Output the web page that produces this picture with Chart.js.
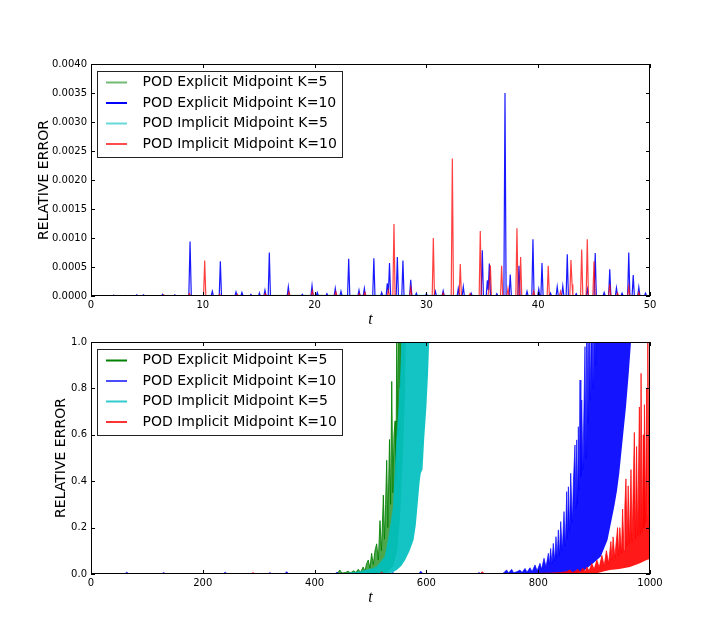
<!DOCTYPE html>
<html>
<head>
<meta charset="utf-8">
<title>Relative error</title>
<script src="https://cdn.jsdelivr.net/npm/chart.js@4.4.1/dist/chart.umd.min.js"></script>
<style>
  html, body { margin: 0; padding: 0; background: #fff; }
  #wrap { position: relative; width: 720px; height: 638px; overflow: hidden; background: #fff; }
  canvas { position: absolute; left: 0; }
  #topChart { top: 0; }
  #bottomChart { top: 330px; }
</style>
</head>
<body>
<div id="wrap">
  <canvas id="topChart" width="720" height="330"></canvas>
  <canvas id="bottomChart" width="720" height="308"></canvas>
</div>
<script>
// legend names (same for both panels)
const seriesLabels = [
  'POD Explicit Midpoint K=5',
  'POD Explicit Midpoint K=10',
  'POD Implicit Midpoint K=5',
  'POD Implicit Midpoint K=10'
];

// tick labels
const topXTicks = [0, 10, 20, 30, 40, 50];
const topYTicks = [0, 0.0005, 0.001, 0.0015, 0.002, 0.0025, 0.003, 0.0035, 0.004];
const bottomXTicks = [0, 200, 400, 600, 800, 1000];
const bottomYTicks = [0, 0.2, 0.4, 0.6, 0.8, 1.0];

// ---- top panel, t in [0, 50] : [t, relative error]
const topExplicitK5 = [[0, 0], [20, 0.00001], [50, 0]];
const topImplicitK5 = [[0, 0], [30, 0.00001], [50, 0]];

const topExplicitK10 = [
  [0, 0], [2.0, 0], [2.05, 0.00001], [2.1, 0], [4.0, 0], [4.1, 0.00002], [4.2, 0], [4.6, 0], [4.7, 0.00002], [4.8, 0],
  [6.3, 0], [6.4, 0.00003], [6.5, 0], [7.4, 0], [7.5, 0.00002], [7.6, 0], [8.75, 0], [8.86, 0.00094], [8.97, 0],
  [10.75, 0], [10.85, 0.00008], [10.95, 0], [11.47, 0], [11.57, 0.0006], [11.67, 0], [12.87, 0], [12.97, 0.00007], [13.07, 0],
  [13.4, 0], [13.5, 0.00006], [13.6, 0], [14.2, 0], [14.3, 0.00003], [14.4, 0], [15.0, 0], [15.06, 0.00005], [15.14, 0],
  [15.46, 0], [15.56, 0.0001], [15.66, 0], [15.85, 0], [15.95, 0.00075], [16.05, 0], [17.55, 0], [17.65, 0.00016], [17.75, 0],
  [18.8, 0], [18.9, 0.00003], [19.0, 0], [19.67, 0], [19.77, 0.00018], [19.87, 0], [20.14, 0], [20.24, 0.00006], [20.34, 0],
  [21.0, 0], [21.1, 0.00004], [21.2, 0], [21.75, 0], [21.85, 0.00013], [21.95, 0], [22.26, 0], [22.36, 0.00008], [22.46, 0],
  [22.95, 0], [23.05, 0.00064], [23.15, 0], [23.87, 0], [23.97, 0.0001], [24.07, 0], [24.35, 0], [24.45, 0.00013], [24.55, 0],
  [25.2, 0], [25.3, 0.00065], [25.4, 0], [25.9, 0], [26.0, 0.00006], [26.1, 0], [26.4, 0], [26.5, 0.00022], [26.6, 0.00005],
  [26.7, 0.00057], [26.8, 0], [27.3, 0], [27.4, 0.00067], [27.5, 0], [27.8, 0], [27.9, 0.00061], [28.0, 0],
  [28.5, 0], [28.6, 0.00028], [28.7, 0], [29.0, 0], [29.1, 0.00005], [29.2, 0], [29.9, 0], [30.0, 0.00004], [30.1, 0],
  [30.7, 0], [30.8, 0.00008], [30.9, 0], [31.4, 0], [31.5, 0.00009], [31.6, 0], [32.75, 0], [32.85, 0.00013], [32.95, 0],
  [33.2, 0], [33.3, 0.00016], [33.4, 0], [33.9, 0], [34.0, 0.00005], [34.1, 0], [34.9, 0], [35.0, 0.00079], [35.1, 0],
  [35.35, 0], [35.45, 0.00027], [35.53, 0.0001], [35.63, 0.00056], [35.73, 0], [36.2, 0], [36.3, 0.00004], [36.4, 0],
  [36.93, 0], [37.03, 0.0035], [37.13, 0], [37.4, 0], [37.5, 0.00037], [37.6, 0], [38.18, 0], [38.28, 0.00052], [38.38, 0],
  [38.9, 0], [39.0, 0.00008], [39.1, 0], [39.43, 0], [39.53, 0.00098], [39.63, 0], [39.95, 0], [40.05, 0.00012], [40.15, 0],
  [40.24, 0], [40.34, 0.00057], [40.44, 0], [41.0, 0], [41.1, 0.00005], [41.2, 0], [41.6, 0], [41.7, 0.00016], [41.8, 0],
  [42.1, 0], [42.2, 0.00017], [42.3, 0], [42.5, 0], [42.6, 0.00072], [42.7, 0], [43.3, 0], [43.4, 0.00004], [43.5, 0],
  [44.3, 0], [44.4, 0.00012], [44.5, 0], [45.0, 0], [45.1, 0.00074], [45.2, 0], [45.8, 0], [45.9, 0.00006], [46.0, 0],
  [46.3, 0], [46.4, 0.00046], [46.5, 0], [46.9, 0], [47.0, 0.00014], [47.1, 0], [47.4, 0], [47.5, 0.00005], [47.6, 0],
  [48.0, 0], [48.1, 0.00075], [48.2, 0], [48.4, 0], [48.5, 0.00036], [48.6, 0], [48.9, 0], [49.0, 0.00015], [49.1, 0],
  [49.5, 0], [49.6, 0.00005], [49.7, 0], [50, 0]
];

const topImplicitK10 = [
  [0, 0], [3.0, 0], [3.1, 0.00001], [3.2, 0], [6.4, 0], [6.5, 0.00002], [6.6, 0], [8.7, 0], [8.8, 0.00004], [8.9, 0],
  [10.07, 0], [10.17, 0.00061], [10.27, 0], [11.4, 0], [11.5, 0.00003], [11.6, 0], [13.0, 0], [13.1, 0.00003], [13.2, 0],
  [15.5, 0], [15.6, 0.00004], [15.7, 0], [17.6, 0], [17.7, 0.00007], [17.8, 0], [19.7, 0], [19.8, 0.00009], [19.9, 0],
  [21.8, 0], [21.9, 0.00007], [22.0, 0], [23.9, 0], [24.0, 0.00004], [24.1, 0], [24.4, 0], [24.5, 0.00006], [24.6, 0],
  [26.5, 0], [26.6, 0.0001], [26.7, 0], [27.0, 0], [27.1, 0.00124], [27.2, 0], [28.5, 0], [28.6, 0.00014], [28.7, 0],
  [30.52, 0], [30.62, 0.001], [30.72, 0], [31.4, 0], [31.5, 0.00005], [31.6, 0], [32.22, 0], [32.32, 0.00237], [32.42, 0],
  [32.93, 0], [33.03, 0.00055], [33.13, 0], [33.8, 0], [33.9, 0.00004], [34.0, 0], [34.72, 0], [34.82, 0.00112], [34.92, 0],
  [35.5, 0], [35.6, 0.00012], [35.72, 0.00053], [35.82, 0], [36.63, 0], [36.73, 0.00052], [36.83, 0],
  [37.2, 0], [37.3, 0.00013], [37.4, 0], [38.0, 0], [38.1, 0.00117], [38.2, 0], [38.33, 0], [38.43, 0.00067], [38.53, 0],
  [39.5, 0], [39.6, 0.00008], [39.7, 0], [40.8, 0], [40.9, 0.00052], [41.0, 0], [41.9, 0], [42.0, 0.00008], [42.1, 0],
  [42.83, 0], [42.93, 0.00062], [43.03, 0.0002], [43.1, 0], [43.79, 0], [43.89, 0.0008], [43.99, 0],
  [44.29, 0], [44.39, 0.00098], [44.49, 0], [44.89, 0], [44.99, 0.0006], [45.09, 0], [46.3, 0], [46.4, 0.0002], [46.5, 0],
  [47.0, 0], [47.1, 0.00005], [47.2, 0], [48.0, 0], [48.1, 0.00016], [48.2, 0], [48.9, 0], [49.0, 0.00006], [49.1, 0], [50, 0]
];

// ---- bottom panel, t in [0, 1000]: oscillating error, upper and lower envelopes
const bottomExplicitK5Upper = [
  [0, 0], [438, 0], [442, 0.006], [445, 0.017], [449, 0.004], [455, 0.006], [460, 0.012], [464, 0.004], [470, 0.014],
  [474, 0.006], [478, 0.02], [482, 0.008], [487, 0.03], [490, 0.012], [493, 0.045], [496, 0.06], [499, 0.025],
  [502, 0.089], [505, 0.04], [508, 0.1], [511, 0.13], [514, 0.06], [517, 0.23], [519.5, 0.1], [521, 0.19], [523, 0.34],
  [525, 0.15], [527, 0.3], [529, 0.49], [531, 0.2], [534, 0.58], [536, 0.3], [538, 0.83], [540, 0.35], [542, 0.6],
  [544, 0.66], [545.5, 0.4], [547, 1.05], [549, 0.6], [551, 1.3], [553, 0.8], [555, 1.4], [560, 1.5], [566, 1.5]
];
const bottomExplicitK5Lower = [
  [0, 0], [520, 0], [530, 0.01], [540, 0.03], [548, 0.1], [553, 0.25], [558, 0.5], [562, 0.8], [564, 1.2], [566, 1.5]
];

const bottomExplicitK10Upper = [
  [0, 0], [60, 0], [64, 0.008], [68, 0], [126, 0], [130, 0.006], [134, 0], [236, 0], [240, 0.008], [244, 0],
  [316, 0], [320, 0.006], [324, 0], [346, 0], [350, 0.01], [354, 0], [436, 0], [440, 0.008], [444, 0],
  [536, 0], [540, 0.006], [544, 0], [586, 0], [590, 0.012], [594, 0], [690, 0], [694, 0.006], [698, 0],
  [736, 0], [740, 0.01], [743.6, 0.017], [747, 0.004], [752.5, 0.02], [756, 0.005], [762, 0.01], [767.4, 0.017],
  [771, 0.006], [776.4, 0.024], [780, 0.008], [785.3, 0.027], [789, 0.01], [794.3, 0.039], [798, 0.014],
  [803.2, 0.046], [806, 0.02], [810.4, 0.068], [814, 0.03], [818.2, 0.089], [820, 0.04], [822.3, 0.11],
  [824.5, 0.045], [827, 0.132], [829.5, 0.055], [831.8, 0.161], [834, 0.07], [836, 0.19], [838, 0.08], [840.3, 0.226],
  [843, 0.1], [846.2, 0.269], [848.5, 0.12], [851, 0.355], [852.5, 0.15], [854, 0.376], [856, 0.18], [858.2, 0.434],
  [861, 0.22], [863, 0.4], [865.8, 0.556], [867.5, 0.28], [868.9, 0.578], [870.5, 0.3], [871.8, 0.635], [873.3, 0.36],
  [874.8, 0.836], [876.3, 0.42], [877.8, 0.75], [880, 0.45], [883.7, 0.98], [885.5, 0.5], [887, 1.2], [889, 0.65],
  [891, 1.2], [893, 0.75], [896, 1.3], [898, 0.8], [901, 1.3], [903, 0.9], [905, 1.4], [912, 1.5], [975, 1.5]
];
const bottomExplicitK10Lower = [
  [0, 0], [855, 0], [870, 0.005], [880, 0.012], [890, 0.03], [900, 0.05], [912, 0.075], [924, 0.147],
  [936, 0.29], [941, 0.36], [945, 0.434], [951, 0.578], [957, 0.72], [962, 0.865], [966, 1.0], [969, 1.3], [975, 1.5]
];

const bottomImplicitK5Upper = [
  [0, 0], [455, 0], [460, 0.004], [470, 0.006], [480, 0.009], [493, 0.017], [502, 0.022], [511, 0.03], [518, 0.05],
  [526, 0.075], [532, 0.147], [537, 0.22], [541, 0.29], [544, 0.43], [547, 0.58], [551, 0.72], [554, 0.86],
  [556, 1.0], [558, 1.5], [620, 1.5]
];
const bottomImplicitK5Lower = [
  [0, 0], [530, 0], [540, 0.008], [547, 0.017], [555, 0.035], [562, 0.06], [570, 0.1], [577, 0.147], [581, 0.21],
  [584, 0.29], [588, 0.4], [590, 0.434], [593, 0.45], [594, 0.49], [596, 0.58], [600, 0.72], [603, 0.865],
  [605, 1.0], [607, 1.3], [620, 1.5]
];

const bottomImplicitK10Upper = [
  [0, 0], [286, 0], [290, 0.006], [294, 0], [516, 0], [520, 0.008], [524, 0], [696, 0], [700, 0.01], [704, 0],
  [780, 0], [800, 0.003], [820, 0.004], [840, 0.006], [850, 0.01], [857, 0.017], [861, 0.006], [866, 0.012],
  [871, 0.02], [875, 0.008], [880, 0.025], [884, 0.01], [887, 0.03], [891, 0.014], [896, 0.045], [900, 0.02],
  [905, 0.06], [909, 0.028], [914, 0.08], [918, 0.035], [922, 0.1], [926, 0.045], [930, 0.14], [932, 0.06],
  [934, 0.16], [937, 0.07], [942, 0.2], [944, 0.08], [946, 0.2], [949, 0.09], [951, 0.28], [953.5, 0.1],
  [955, 0.29], [957, 0.41], [959, 0.12], [961, 0.38], [963, 0.13], [966, 0.45], [968, 0.14], [972, 0.61], [974, 0.15],
  [976, 0.55], [978, 0.16], [981, 0.72], [982.5, 0.17], [984, 0.865], [986, 0.18], [988, 0.6], [989, 0.2],
  [990, 0.73], [992, 0.22], [994, 0.8], [995, 0.25], [996, 1.1], [998, 0.3], [1000, 1.2]
];
const bottomImplicitK10Lower = [
  [0, 0], [900, 0], [915, 0.01], [928, 0.017], [945, 0.022], [964, 0.03], [982, 0.046], [994, 0.06], [1000, 0.065]
];

const tickFont = { family: 'DejaVu Sans', size: 10 };

function toPoints(pairs) {
  return pairs.map(p => ({ x: p[0], y: p[1] }));
}

// frame, inward ticks on all four sides and the boxed legend inside the axes
const axesDecor = {
  id: 'axesDecor',
  afterDatasetsDraw(chart, args, opts) {
    const { ctx, chartArea: a, scales } = chart;
    ctx.save();
    ctx.strokeStyle = '#000';
    ctx.lineWidth = 1;
    ctx.beginPath();
    scales.x.ticks.forEach(t => {
      const px = Math.round(scales.x.getPixelForValue(t.value)) + 0.5;
      ctx.moveTo(px, a.bottom); ctx.lineTo(px, a.bottom - 4);
      ctx.moveTo(px, a.top); ctx.lineTo(px, a.top + 4);
    });
    scales.y.ticks.forEach(t => {
      const py = Math.round(scales.y.getPixelForValue(t.value)) + 0.5;
      ctx.moveTo(a.left, py); ctx.lineTo(a.left + 4, py);
      ctx.moveTo(a.right, py); ctx.lineTo(a.right - 4, py);
    });
    ctx.stroke();
    ctx.strokeRect(Math.round(a.left) + 0.5, Math.round(a.top) + 0.5, Math.round(a.width) - 1, Math.round(a.height) - 1);

    // legend
    const lx = Math.round(a.left) + 6, ly = Math.round(a.top) + 7;
    ctx.fillStyle = '#fff';
    ctx.fillRect(lx, ly, 245, 86);
    ctx.strokeStyle = '#222';
    ctx.strokeRect(lx + 0.5, ly + 0.5, 245, 86);
    ctx.font = '14px "DejaVu Sans"';
    ctx.textBaseline = 'middle';
    opts.labels.forEach((label, i) => {
      const ry = ly + 11.5 + 20.5 * i;
      ctx.strokeStyle = opts.colors[i];
      ctx.lineWidth = 2;
      ctx.beginPath();
      ctx.moveTo(lx + 9, ry);
      ctx.lineTo(lx + 30, ry);
      ctx.stroke();
      ctx.fillStyle = '#000';
      ctx.fillText(label, lx + 45.5, ry);
    });
    ctx.restore();
  }
};

function makeScales(xTicks, yTicks, xMax, yMax, yFmt, yAxisWidth) {
  return {
    x: {
      type: 'linear', min: 0, max: xMax,
      afterBuildTicks: s => { s.ticks = xTicks.map(v => ({ value: v })); },
      afterFit: s => { s.height = 34; },
      grid: { display: false, drawTicks: false },
      border: { display: false },
      ticks: { font: tickFont, color: '#000', padding: 3, maxRotation: 0, autoSkip: false, callback: v => String(v) },
      title: { display: true, text: 't', color: '#000', font: { family: 'Liberation Serif', size: 16, style: 'italic' }, padding: { top: 0, bottom: 1 } }
    },
    y: {
      type: 'linear', min: 0, max: yMax,
      afterBuildTicks: s => { s.ticks = yTicks.map(v => ({ value: v })); },
      afterFit: s => { s.width = yAxisWidth; },
      grid: { display: false, drawTicks: false },
      border: { display: false },
      ticks: { font: tickFont, color: '#000', padding: 4, autoSkip: false, callback: yFmt },
      title: { display: true, text: 'RELATIVE ERROR', color: '#000', font: { family: 'DejaVu Sans', size: 14 }, padding: { top: 4, bottom: 0 } }
    }
  };
}

document.addEventListener('DOMContentLoaded', function () {
  Chart.defaults.font.family = 'DejaVu Sans';

  const lineBase = { pointRadius: 0, pointHoverRadius: 0, tension: 0, fill: false };

  // top: spikes drawn as plain lines
  const topColors = ['rgba(0,128,0,0.5)', 'rgba(0,0,255,0.9)', 'rgba(0,191,191,0.6)', 'rgba(255,0,0,0.75)'];
  const topData = [topExplicitK5, topExplicitK10, topImplicitK5, topImplicitK10];
  const topDatasets = topData.map((pairs, i) => Object.assign({}, lineBase, {
    label: seriesLabels[i],
    data: toPoints(pairs),
    borderColor: topColors[i],
    borderWidth: 1.2,
    order: 4 - i // later series on top
  }));

  new Chart(document.getElementById('topChart').getContext('2d'), {
    type: 'line',
    data: { datasets: topDatasets },
    options: {
      responsive: false,
      animation: false,
      layout: { padding: { top: 64, right: 70, left: 32, bottom: 0 } },
      plugins: {
        legend: { display: false },
        tooltip: { enabled: false },
        axesDecor: { labels: seriesLabels, colors: ['rgba(0,128,0,0.55)', 'rgb(0,0,255)', 'rgba(0,191,191,0.6)', 'rgba(255,0,0,0.7)'] }
      },
      scales: makeScales(topXTicks, topYTicks, 50, 0.004, v => v.toFixed(4), 59)
    },
    plugins: [axesDecor]
  });

  // bottom: each series is a band between its upper and lower envelopes
  const bands = [
    [bottomExplicitK5Upper, bottomExplicitK5Lower, 'rgba(0,128,0,0.85)', 'rgba(0,128,0,0.7)'],
    [bottomExplicitK10Upper, bottomExplicitK10Lower, 'rgba(0,0,255,0.65)', 'rgba(0,0,255,0.92)'],
    [bottomImplicitK5Upper, bottomImplicitK5Lower, 'rgba(0,191,191,0.7)', 'rgba(0,191,191,0.92)'],
    [bottomImplicitK10Upper, bottomImplicitK10Lower, 'rgba(255,0,0,0.7)', 'rgba(255,0,0,0.9)']
  ];
  const bottomDatasets = [];
  bands.forEach((b, i) => {
    bottomDatasets.push(Object.assign({}, lineBase, {
      label: seriesLabels[i],
      data: toPoints(b[0]),
      borderColor: b[2],
      backgroundColor: b[3],
      borderWidth: 1,
      fill: '+1',
      order: 4 - i
    }));
    bottomDatasets.push(Object.assign({}, lineBase, {
      label: seriesLabels[i] + ' (lower)',
      data: toPoints(b[1]),
      borderColor: 'rgba(0,0,0,0)',
      borderWidth: 1,
      order: 4 - i
    }));
  });

  new Chart(document.getElementById('bottomChart').getContext('2d'), {
    type: 'line',
    data: { datasets: bottomDatasets },
    options: {
      responsive: false,
      animation: false,
      layout: { padding: { top: 12, right: 70, left: 49, bottom: 30 } },
      plugins: {
        legend: { display: false },
        tooltip: { enabled: false },
        axesDecor: { labels: seriesLabels, colors: ['rgb(0,128,0)', 'rgba(0,0,255,0.7)', 'rgba(0,191,191,0.8)', 'rgba(255,0,0,0.8)'] }
      },
      scales: makeScales(bottomXTicks, bottomYTicks, 1000, 1.0, v => v.toFixed(1), 42)
    },
    plugins: [axesDecor]
  });
});
</script>
</body>
</html>
